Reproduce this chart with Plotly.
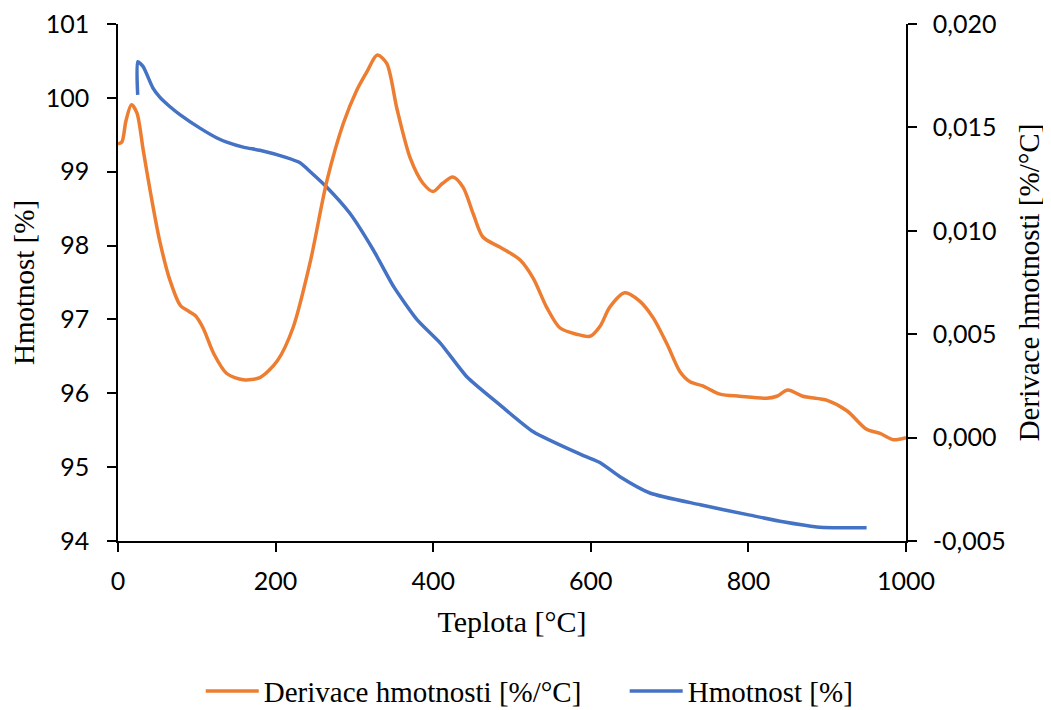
import plotly.graph_objects as go

# Derivative curve (orange, right axis)
deriv_temp = [0, 5, 10, 17, 24, 32, 41, 53, 66, 79, 90, 98, 108, 121, 138, 159, 180, 202, 222, 244,
              265, 286, 303, 316, 329, 341, 354, 371, 387, 400, 412, 425, 438, 451, 463, 485, 510,
              527, 544, 561, 582, 599, 612, 624, 643, 662, 679, 697, 713, 726, 742, 764, 789, 823,
              836, 850, 869, 900, 925, 950, 967, 984, 1000]
deriv_vals = [0.0142, 0.0143, 0.0153, 0.0161, 0.0157, 0.0139, 0.0119, 0.0095, 0.0076, 0.0064,
              0.0061, 0.0059, 0.0053, 0.0041, 0.0031, 0.0028, 0.0029, 0.0037, 0.0053, 0.0085,
              0.0124, 0.0152, 0.0168, 0.0177, 0.0185, 0.0181, 0.0159, 0.0135, 0.0123, 0.0119,
              0.0123, 0.0126, 0.0121, 0.0108, 0.0097, 0.0092, 0.0086, 0.0077, 0.0063, 0.0053,
              0.0050, 0.0049, 0.0054, 0.0063, 0.0070, 0.0066, 0.0058, 0.0045, 0.0032, 0.0027,
              0.0025, 0.0021, 0.0020, 0.0019, 0.0020, 0.0023, 0.0020, 0.0018, 0.0013, 0.0004,
              0.0002, -0.0001, 0.0000]

# Mass curve (blue, left axis)
mass_temp = [25, 25, 32, 44, 53, 66, 79, 104, 125, 138, 160, 180, 214, 231, 244, 265, 294, 324,
             350, 380, 409, 443, 485, 527, 590, 612, 637, 675, 739, 802, 844, 887, 908, 950]
mass_vals = [100.04, 100.49, 100.42, 100.14, 100.01, 99.88, 99.77, 99.59, 99.46, 99.40, 99.33,
             99.29, 99.19, 99.12, 99.00, 98.79, 98.44, 97.94, 97.44, 96.99, 96.68, 96.22, 95.84,
             95.48, 95.16, 95.06, 94.87, 94.65, 94.49, 94.35, 94.26, 94.19, 94.18, 94.18]

x_ticks = [0, 200, 400, 600, 800, 1000]
left_ticks = [94, 95, 96, 97, 98, 99, 100, 101]
right_tickvals = [-0.005, 0.0, 0.005, 0.010, 0.015, 0.020]
right_ticktext = ["-0,005", "0,000", "0,005", "0,010", "0,015", "0,020"]

assert len(deriv_temp) == len(deriv_vals)
assert len(mass_temp) == len(mass_vals)

ORANGE = "#ED7D31"
BLUE = "#4472C4"
SERIF = "Liberation Serif"
SANS = "Lato"

fig = go.Figure()
fig.add_trace(go.Scatter(
    x=deriv_temp, y=deriv_vals, name="Derivace hmotnosti [%/°C]", yaxis="y2",
    legend="legend",
    mode="lines", line=dict(color=ORANGE, width=3.5, shape="spline", smoothing=0.8)))
fig.add_trace(go.Scatter(
    x=mass_temp, y=mass_vals, name="Hmotnost [%]", yaxis="y",
    legend="legend2",
    mode="lines", line=dict(color=BLUE, width=3.5, shape="spline", smoothing=0.6)))

axis_common = dict(showgrid=False, zeroline=False, showline=True, linecolor="black",
                   linewidth=1.5, ticks="outside", ticklen=9, tickwidth=1.5, tickcolor="black",
                   tickfont=dict(family=SANS, size=25, color="black"), automargin=False,
                   ticklabeloverflow="allow")

legend_common = dict(orientation="h", xanchor="left", yref="container", y=0.027,
                     yanchor="middle", font=dict(family=SERIF, size=29, color="black"),
                     itemwidth=53, bgcolor="rgba(0,0,0,0)")

fig.update_layout(
    width=1043, height=702,
    margin=dict(l=110, r=145, t=16, b=169),
    paper_bgcolor="white", plot_bgcolor="white",
    separators=", ",
    showlegend=True,
    legend=dict(x=0.105, **legend_common),
    legend2=dict(x=0.643, **legend_common),
    xaxis=dict(range=[0, 1000], tickvals=x_ticks, ticklabelstandoff=8,
               title=dict(text="Teplota [°C]", font=dict(family=SERIF, size=30, color="black"),
                          standoff=17),
               **axis_common),
    yaxis=dict(range=[94, 101], tickvals=left_ticks, ticklabelstandoff=13,
               title=dict(text="Hmotnost [%]", font=dict(family=SERIF, size=29, color="black"),
                          standoff=5),
               **axis_common),
    yaxis2=dict(range=[-0.005, 0.020], tickvals=right_tickvals, ticktext=right_ticktext,
                overlaying="y", side="right", ticklabelstandoff=11,
                title=dict(text="Derivace hmotnosti [%/°C]",
                           font=dict(family=SERIF, size=29, color="black"), standoff=14),
                **axis_common),
)

fig.write_html("out.html")
